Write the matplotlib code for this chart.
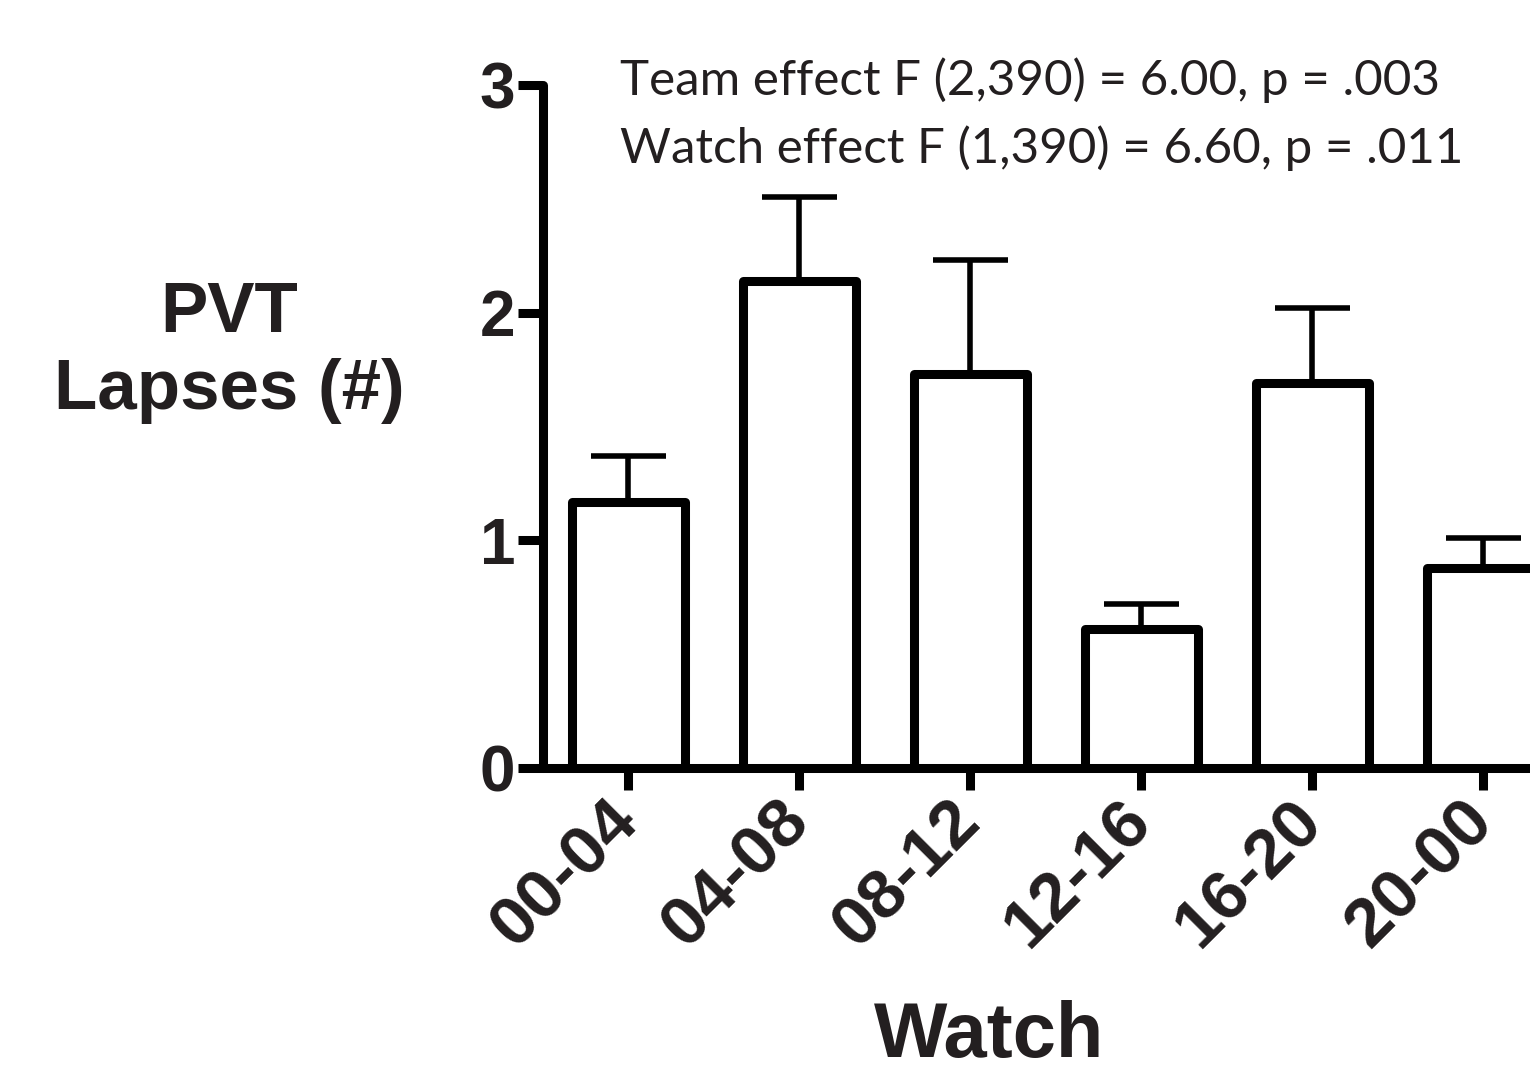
import matplotlib
matplotlib.use("Agg")
import matplotlib.pyplot as plt
from matplotlib.transforms import ScaledTranslation
import numpy as np

watches = ["00-04", "04-08", "08-12", "12-16", "16-20", "20-00"]
lapses = [1.17, 2.14, 1.73, 0.61, 1.69, 0.88]
sem = [0.20, 0.37, 0.50, 0.11, 0.33, 0.13]
yticks = [0, 1, 2, 3]
stats_lines = [
    "Team effect F (2,390) = 6.00, p = .003",
    "Watch effect F (1,390) = 6.60, p = .011",
]
txt_color = "#231f20"

W, H = 1530, 1069
fig = plt.figure(figsize=(W / 100, H / 100), dpi=100)
ax = fig.add_axes([543 / W, 1 - 768 / H, (W - 543) / W, (768 - 85) / H])

x = np.arange(len(watches))
ax.errorbar(x, lapses, yerr=[np.zeros(len(sem)), sem], fmt="none",
            ecolor="black", elinewidth=4, capsize=27, capthick=4,
            zorder=2, clip_on=False)
for ln in ax.lines:
    ln.set_solid_capstyle("round")
bars = ax.bar(x, lapses, width=0.66, facecolor="white", edgecolor="black",
              linewidth=6.5, zorder=3)
for b in bars:
    b.set_joinstyle("round")

ax.set_xlim(-0.5, (W - 628) / 171)
ax.set_ylim(0, 3)
ax.set_yticks(yticks)
ax.set_xticks(x)
ax.set_xticklabels(watches, rotation=45, ha="right", va="center",
                   rotation_mode="anchor", fontsize=50, fontweight="bold",
                   family="Liberation Sans", color=txt_color)
ax.set_yticklabels([str(v) for v in yticks], fontsize=46, fontweight="bold",
                   family="Liberation Sans", color=txt_color)
shift = ScaledTranslation(-9 / 100, 0, fig.dpi_scale_trans)
for lab in ax.get_xticklabels():
    lab.set_transform(lab.get_transform() + shift)

for side in ["top", "right"]:
    ax.spines[side].set_visible(False)
for side in ["left", "bottom"]:
    ax.spines[side].set_linewidth(6.5)
    ax.spines[side].set_capstyle("round")
ax.tick_params(axis="y", length=18, width=6.5, pad=2)
ax.tick_params(axis="x", length=16, width=6.5, pad=15)

fig.text(229 / W, 1 - 332 / H, "PVT", ha="center", va="baseline",
         fontsize=51, fontweight="bold", family="Liberation Sans",
         color=txt_color)
fig.text(229 / W, 1 - 409 / H, "Lapses (#)", ha="center", va="baseline",
         fontsize=51, fontweight="bold", family="Liberation Sans",
         color=txt_color)
fig.text(989 / W, 1 - 1037 / H, "Watch", ha="center", va="center",
         fontsize=56, fontweight="bold", family="Liberation Sans",
         color=txt_color)

for i, s in enumerate(stats_lines):
    fig.text(620 / W, 1 - (95 + 68 * i) / H, s, ha="left", va="baseline",
             fontsize=35.5, family="Lato", color=txt_color)

fig.savefig("out.png", dpi=100)
